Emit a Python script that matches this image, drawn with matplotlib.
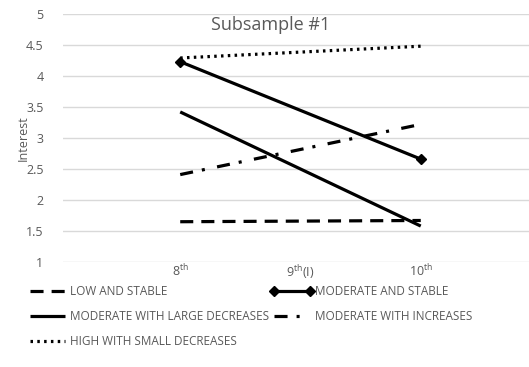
import matplotlib
matplotlib.use("Agg")
import matplotlib.pyplot as plt

plt.rcParams['font.family'] = ['Open Sans', 'DejaVu Sans']
plt.rcParams['mathtext.fontset'] = 'custom'
plt.rcParams['mathtext.rm'] = 'Open Sans'
plt.rcParams['lines.scale_dashes'] = False

categories = ['8$^{\\mathregular{th}}$', '9$^{\\mathregular{th}}$(I)', '10$^{\\mathregular{th}}$']
series_names = ['LOW AND STABLE', 'MODERATE AND STABLE', 'MODERATE WITH LARGE DECREASES',
                'MODERATE WITH INCREASES', 'HIGH WITH SMALL DECREASES']
low_stable = [1.65, None, 1.67]
moderate_stable = [4.23, None, 2.66]
moderate_large_dec = [3.42, None, 1.58]
moderate_inc = [2.41, None, 3.22]
high_small_dec = [4.29, None, 4.48]
values = [low_stable, moderate_stable, moderate_large_dec, moderate_inc, high_small_dec]

yticks = [1, 1.5, 2, 2.5, 3, 3.5, 4, 4.5, 5]

styles = [
    dict(dashes=(9.4, 5.8), lw=2.3),
    dict(lw=2.3, marker='D', markersize=5),
    dict(lw=2.3),
    dict(dashes=(9.4, 6.5, 2.2, 9.0), lw=2.3),
    dict(dashes=(1.8, 3.1), lw=2.3),
]

fig = plt.figure(figsize=(5.29, 3.67), dpi=100)
ax = fig.add_axes([0.119, 0.286, 0.881, 0.676])

handles = []
for name, vals, st in zip(series_names, values, styles):
    xs = [i for i, v in enumerate(vals) if v is not None]
    ys = [v for v in vals if v is not None]
    ln, = ax.plot(xs, ys, color='black', solid_capstyle='butt', dash_capstyle='butt', label=name, **st)
    handles.append(ln)

ax.set_xlim(-0.975, 2.9)
ax.set_ylim(1, 5)
ax.set_yticks(yticks)
ax.set_yticklabels([f'{t:g}' for t in yticks])
ax.set_xticks(range(len(categories)))
ax.set_xticklabels(categories)
ax.grid(axis='y', color='#d9d9d9', lw=1)
ax.set_axisbelow(True)
for s in ax.spines.values():
    s.set_visible(False)
ax.tick_params(length=0, colors='#595959', labelsize=9)
ax.tick_params(axis='y', pad=14)
ax.tick_params(axis='x', pad=1)
ax.set_ylabel('Interest', color='#595959', fontsize=9, labelpad=-3)
ax.set_title('Subsample #1', color='#595959', fontsize=13, x=0.445, y=0.9)

order = [0, 2, 4, 1, 3]
leg = fig.legend(handles=[handles[i] for i in order], loc='upper left',
                 bbox_to_anchor=(0.03, 0.252), ncol=2,
                 frameon=False, fontsize=8.5, handlelength=3.6, handletextpad=0.12,
                 columnspacing=0.1, labelspacing=1.0, numpoints=2, labelcolor='#595959')

fig.savefig('out.png', dpi=100)
